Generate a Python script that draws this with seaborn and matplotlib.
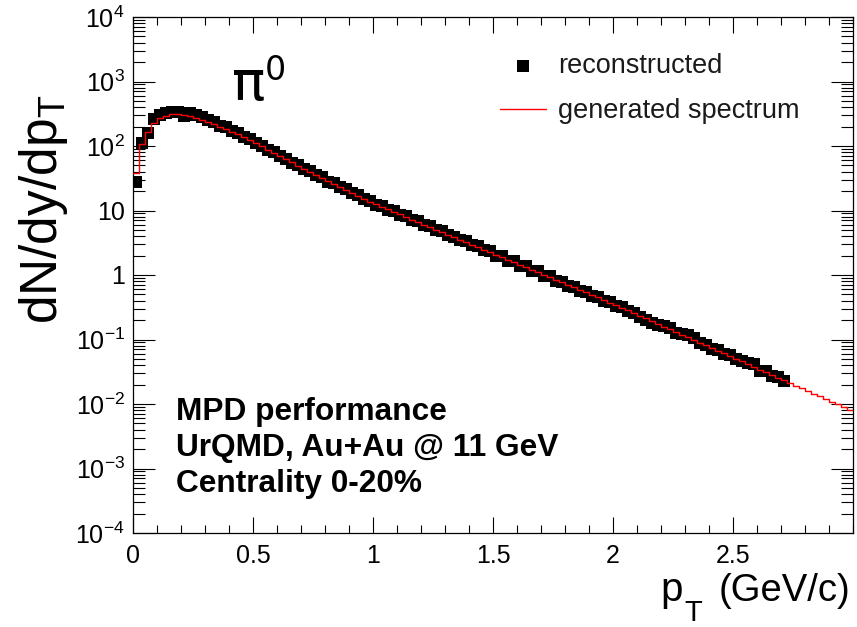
import numpy as np
import pandas as pd
import matplotlib
matplotlib.use("Agg")
import matplotlib.pyplot as plt
import seaborn as sns
from matplotlib.ticker import FixedLocator, FixedFormatter, MultipleLocator, LogLocator, NullFormatter

# ---------------- data ----------------
bin_width = 0.025
n_bins = 120

generated = [
    38.0, 107, 166, 229, 269, 295, 309, 313, 305, 292, 275, 257, 237, 219, 200, 182, 166, 151, 136, 123, 111,
    98.9, 88.1, 78.5, 70.0, 62.4, 55.6, 49.7, 44.4, 39.6, 35.5, 31.8, 28.6, 25.7, 23.1, 20.8, 18.7, 16.9, 15.2, 13.7, 12.4,
    11.35, 10.4, 9.49, 8.67, 7.93, 7.24, 6.62, 6.05, 5.53, 5.06, 4.62, 4.23, 3.86, 3.53, 3.23, 2.95, 2.70, 2.47, 2.25, 2.06,
    1.88, 1.72, 1.57, 1.44, 1.32, 1.20, 1.10, 1.00, 0.918, 0.839, 0.767, 0.701, 0.641, 0.586, 0.536, 0.490, 0.448, 0.409, 0.374, 0.342,
    0.310, 0.282, 0.256, 0.233, 0.212, 0.192, 0.175, 0.159, 0.144, 0.131, 0.119, 0.108, 0.0984, 0.0893, 0.0811, 0.0738, 0.0670, 0.0608, 0.0553, 0.0502,
    0.0456, 0.0415, 0.0377, 0.0342, 0.0311, 0.0282, 0.0257, 0.0233, 0.0212, 0.0193, 0.0175, 0.0159, 0.0145, 0.0131, 0.0119, 0.0108, 0.00984, 0.00894, 0.00813,
]

reconstructed = [
    28, 110, 158, 262, 300, 320, 335, 340, 295, 330, 300, 280, 250, 235, 205, 195, 172, 158, 140, 128, 113,
    100, 86.5, 80.5, 69.0, 64.0, 54.5, 50.5, 43.5, 40.5, 35.0, 32.5, 28.0, 26.3, 22.8, 21.2, 18.4, 17.3, 14.9, 14.0, 12.1,
    11.7, 10.1, 9.7, 8.5, 8.2, 7.0, 6.8, 5.9, 5.7, 4.95, 4.75, 4.10, 3.95, 3.45, 3.32, 2.88, 2.78, 2.40, 2.32, 2.00,
    1.95, 1.66, 1.63, 1.40, 1.36, 1.16, 1.14, 0.97, 0.95, 0.81, 0.79, 0.68, 0.66, 0.57, 0.55, 0.47, 0.46, 0.40, 0.385, 0.33,
    0.320, 0.275, 0.262, 0.225, 0.200, 0.180, 0.170, 0.162, 0.150, 0.128, 0.122, 0.118, 0.104, 0.0870, 0.0835, 0.0720, 0.0690,
    0.0590, 0.0570, 0.0490, 0.0470, 0.0430, 0.0410, 0.0330, 0.0320, 0.0275, 0.0262, 0.0228,
]

x_tick_values = [0, 0.5, 1, 1.5, 2, 2.5]
x_tick_labels = ["0", "0.5", "1", "1.5", "2", "2.5"]
y_tick_values = [1e-4, 1e-3, 1e-2, 1e-1, 1, 10, 1e2, 1e3, 1e4]
y_tick_labels = [r"$10^{-4}$", r"$10^{-3}$", r"$10^{-2}$", r"$10^{-1}$", "1", "10",
                 r"$10^{2}$", r"$10^{3}$", r"$10^{4}$"]

info_lines = ["MPD performance", "UrQMD, Au+Au @ 11 GeV", "Centrality 0-20%"]

# ---------------- derived tables ----------------
edges = np.arange(n_bins + 1) * bin_width
centers = edges[:-1] + bin_width / 2
gen_df = pd.DataFrame({"pt": edges, "val": list(generated) + [generated[-1]]})
rec_df = pd.DataFrame({"pt": centers[:len(reconstructed)], "val": reconstructed})

# ---------------- style ----------------
sns.set_theme(style="ticks")
plt.rcParams["font.family"] = ["Liberation Sans", "DejaVu Sans"]
plt.rcParams["text.color"] = "black"
plt.rcParams["mathtext.fontset"] = "custom"
plt.rcParams["mathtext.rm"] = "Liberation Sans"
plt.rcParams["mathtext.it"] = "Liberation Sans:italic"
plt.rcParams["mathtext.bf"] = "Liberation Sans:bold"
plt.rcParams["mathtext.sf"] = "Liberation Sans"
plt.rcParams["mathtext.default"] = "regular"

W, H = 857, 627
fig = plt.figure(figsize=(W / 100, H / 100), dpi=100)
ax = fig.add_axes([133 / W, 1 - 533 / H, 720 / W, 516 / H])

sns.lineplot(data=gen_df, x="pt", y="val", drawstyle="steps-post", color="#ff0000",
             linewidth=1.0, ax=ax, label="generated spectrum", sort=False)
sns.scatterplot(data=rec_df, x="pt", y="val", marker="s", s=64, color="black",
                linewidth=0, ax=ax, label="reconstructed", zorder=1)
ax.lines[0].set_zorder(3)

ax.set_yscale("log")
ax.set_xlim(0, 3.0)
ax.set_ylim(1e-4, 1e4)
ax.set_xlabel("")
ax.set_ylabel("")

ax.xaxis.set_major_locator(FixedLocator(x_tick_values))
ax.xaxis.set_major_formatter(FixedFormatter(x_tick_labels))
ax.xaxis.set_minor_locator(MultipleLocator(0.1))
ax.yaxis.set_major_locator(FixedLocator(y_tick_values))
ax.yaxis.set_major_formatter(FixedFormatter(y_tick_labels))
ax.yaxis.set_minor_locator(LogLocator(base=10, subs=np.arange(2, 10), numticks=100))
ax.yaxis.set_minor_formatter(NullFormatter())

for s in ax.spines.values():
    s.set_visible(True)
    s.set_linewidth(0.9)
    s.set_color("black")

ax.tick_params(axis="both", which="both", direction="in", top=True, right=True,
               colors="black", width=0.8, labelsize=18)
ax.tick_params(axis="x", which="major", length=11.5, pad=8)
ax.tick_params(axis="x", which="minor", length=5.8)
ax.tick_params(axis="y", which="major", length=15.8, pad=6)
ax.tick_params(axis="y", which="minor", length=8.6)

# legend
handles, labels = ax.get_legend_handles_labels()
order = [labels.index("reconstructed"), labels.index("generated spectrum")]
leg = ax.legend([handles[i] for i in order], [labels[i] for i in order],
                loc="upper left", bbox_to_anchor=((500 - 133) / 720, (533 - 53) / 516),
                frameon=False, fontsize=19.5, handlelength=1.7, handletextpad=0.45,
                labelspacing=0.72, borderaxespad=0, borderpad=0, markerscale=1.0)
for t in leg.get_texts():
    t.set_color("#1a1a1a")

# texts
fig.text(232 / W, 1 - 100 / H, "π", fontsize=40, family="DejaVu Sans", va="baseline")
fig.text(265 / W, 1 - 80 / H, "0", fontsize=24, family="DejaVu Sans", va="baseline")

for i, line in enumerate(info_lines):
    fig.text(176 / W, 1 - (420 + 36 * i) / H, line, fontsize=22.8, fontweight="bold",
             va="baseline", ha="left")

# y axis title
fig.text(43 / W, 1 - 95 / H, r"dN/dy/dp$_{\mathrm{T}}$", rotation=90, ha="center",
         va="top", fontsize=37)

# x axis title, composed ROOT-like (low subscript)
fig.text(850 / W, 1 - 601 / H, "(GeV/c)", ha="right", va="baseline", fontsize=27.5)
fig.text(660 / W, 1 - 601 / H, "p", ha="left", va="baseline", fontsize=29)
fig.text(684 / W, 1 - 621 / H, "T", ha="left", va="baseline", fontsize=21)

fig.savefig("out.png", dpi=100)
